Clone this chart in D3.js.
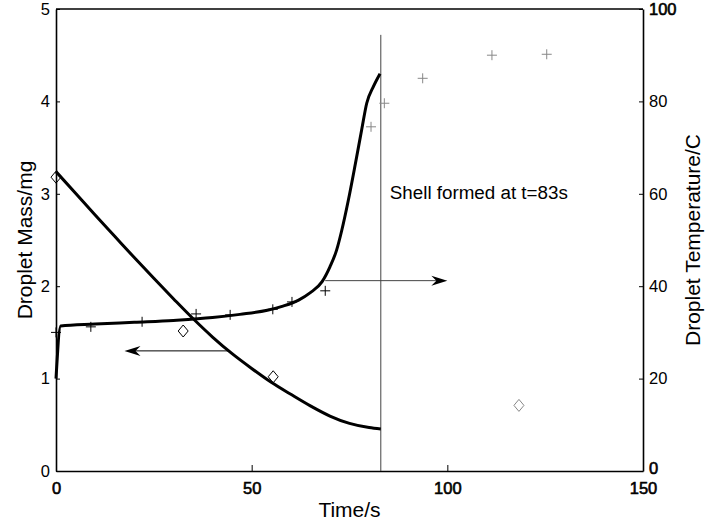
<!DOCTYPE html>
<html>
<head>
<meta charset="utf-8">
<script src="https://cdn.jsdelivr.net/npm/d3@7"></script>
<style>
  body { margin: 0; background: #fff; }
  svg { font-family: "Liberation Sans", Arial, sans-serif; }
  .axis text { font-size: 16.5px; fill: #000; }
  .axis path, .axis line { stroke: #000; }
</style>
</head>
<body>
<svg id="chart" width="705" height="527"></svg>
<script>
// mass curve (mg) vs time (s)
const massTime = [0, 5, 10, 15, 20, 25, 30, 35, 40, 45, 50, 55, 60, 65, 70, 75, 80, 83];
const massModel = [3.24, 3.005, 2.77, 2.54, 2.31, 2.085, 1.865, 1.65, 1.45, 1.27, 1.11, 0.96, 0.83, 0.705, 0.595, 0.515, 0.47, 0.455];

// temperature curve (C) vs time (s)
const tempTime = [0, 1.2, 10, 20, 30, 40, 47, 54, 58, 62, 65, 68, 70, 71.7, 73, 74.7, 76.5, 78.1, 79.4, 81.1, 82.8];
const tempModel = [20, 31.4, 31.8, 32.2, 32.6, 33.2, 33.9, 34.8, 35.7, 37.0, 38.6, 41.0, 44.2, 47.8, 52, 58.6, 66.5, 73.8, 79.6, 83.2, 86];

// measured mass (diamonds)
const massObsTime = [0, 32.5, 55.5];
const massObs = [3.18, 1.515, 1.02];
const massObsLateTime = [118.3];
const massObsLate = [0.71];

// measured temperature (plus signs)
const tempObsTime = [0, 8.9, 22, 35.8, 44.5, 55.4, 60.3, 68.8];
const tempObs = [30, 31.2, 32.3, 34, 33.8, 35, 36.6, 39];
const tempObsLateTime = [80.5, 83.9, 93.7, 111.4, 125.4];
const tempObsLate = [74.5, 79.6, 85, 90, 90.2];

const xTicks = [0, 50, 100, 150];
const massTicks = [0, 1, 2, 3, 4, 5];
const tempTicks = [0, 20, 40, 60, 80, 100];
const shellTime = 83;

const svg = d3.select('#chart');
const pLeft = 56, pRight = 643, pTop = 9, pBottom = 471;

const x = d3.scaleLinear().domain([0, 150]).range([pLeft, pRight]);
const yMass = d3.scaleLinear().domain([0, 5]).range([pBottom, pTop]);
const yTemp = d3.scaleLinear().domain([0, 100]).range([pBottom, pTop]);

// axes
const gx = svg.append('g').attr('class', 'axis')
    .attr('transform', `translate(0,${pBottom})`)
    .call(d3.axisBottom(x).tickValues(xTicks).tickFormat(d3.format('d'))
        .tickSizeInner(-6).tickSizeOuter(0).tickPadding(11));
gx.selectAll('text').attr('stroke', '#000').attr('stroke-width', 0.6);

svg.append('g').attr('class', 'axis')
    .attr('transform', `translate(${pLeft},0)`)
    .call(d3.axisLeft(yMass).tickValues(massTicks).tickFormat(d3.format('d'))
        .tickSizeInner(-4).tickSizeOuter(0).tickPadding(6));

const gr = svg.append('g').attr('class', 'axis')
    .attr('transform', `translate(${pRight},0)`)
    .call(d3.axisRight(yTemp).tickValues(tempTicks).tickFormat(d3.format('d'))
        .tickSizeInner(-4).tickSizeOuter(0).tickPadding(6));
gr.selectAll('text').filter(d => d === 0 || d === 100)
    .attr('stroke', '#000').attr('stroke-width', 0.6);
gr.selectAll('text').filter(d => d === 0).attr('dy', '0.15em');

svg.selectAll('.axis path').attr('stroke-width', 1.6);
svg.selectAll('.axis line').attr('stroke-width', 1);

// top border
svg.append('line')
    .attr('x1', pLeft).attr('x2', pRight).attr('y1', pTop).attr('y2', pTop)
    .attr('stroke', '#000').attr('stroke-width', 1.6);

// shell line
svg.append('line')
    .attr('x1', x(shellTime)).attr('x2', x(shellTime))
    .attr('y1', yMass(4.72)).attr('y2', pBottom)
    .attr('stroke', '#444').attr('stroke-width', 1);

svg.append('text')
    .attr('x', x(shellTime) + 9).attr('y', yMass(2.94))
    .attr('font-size', 18.8)
    .text('Shell formed at t=83s');

// model curves
const massLine = d3.line()
    .x((d, i) => x(massTime[i]))
    .y(d => yMass(d))
    .curve(d3.curveMonotoneX);
svg.append('path')
    .attr('d', massLine(massModel))
    .attr('fill', 'none').attr('stroke', '#000').attr('stroke-width', 3);

const tempLine = d3.line()
    .x((d, i) => x(tempTime[i]))
    .y(d => yTemp(d))
    .curve(d3.curveMonotoneX);
svg.append('path')
    .attr('d', tempLine(tempModel))
    .attr('fill', 'none').attr('stroke', '#000').attr('stroke-width', 3);

// markers
function plus(ts, vs, color) {
    const g = svg.append('g').attr('stroke', color).attr('stroke-width', 1);
    vs.forEach((v, i) => {
        const cx = x(ts[i]), cy = yTemp(v);
        g.append('path').attr('d', `M${cx - 5},${cy}H${cx + 5}M${cx},${cy - 5}V${cy + 5}`);
    });
}
function diamond(ts, vs, color) {
    const g = svg.append('g').attr('stroke', color).attr('stroke-width', 1).attr('fill', 'none');
    vs.forEach((v, i) => {
        const cx = x(ts[i]), cy = yMass(v);
        g.append('path').attr('d', `M${cx},${cy - 6}L${cx + 5},${cy}L${cx},${cy + 6}L${cx - 5},${cy}Z`);
    });
}
plus(tempObsTime, tempObs, '#000');
plus(tempObsLateTime, tempObsLate, '#888');
diamond(massObsTime, massObs, '#000');
diamond(massObsLateTime, massObsLate, '#888');

// arrows pointing to each curve's axis
function arrow(t0, t1, yv, color) {
    const x0 = x(t0), x1 = x(t1), dir = Math.sign(x1 - x0);
    svg.append('line')
        .attr('x1', x0).attr('x2', x1 - dir * 8).attr('y1', yv).attr('y2', yv)
        .attr('stroke', color).attr('stroke-width', 1);
    svg.append('path')
        .attr('d', `M${x1},${yv}L${x1 - dir * 16},${yv - 5}L${x1 - dir * 11},${yv}L${x1 - dir * 16},${yv + 5}Z`)
        .attr('fill', '#000');
}
arrow(44.5, 17.5, yMass(1.3), '#000');
arrow(68.8, 100, yTemp(41.2), '#444');

// axis titles
svg.append('text')
    .attr('transform', `translate(32,${(pTop + pBottom) / 2}) rotate(-90)`)
    .attr('text-anchor', 'middle').attr('font-size', 21)
    .text('Droplet Mass/mg');
svg.append('text')
    .attr('transform', `translate(700,${(pTop + pBottom) / 2}) rotate(-90)`)
    .attr('text-anchor', 'middle').attr('font-size', 21)
    .text('Droplet Temperature/C');
svg.append('text')
    .attr('x', (pLeft + pRight) / 2).attr('y', 517)
    .attr('text-anchor', 'middle').attr('font-size', 21)
    .text('Time/s');
</script>
</body>
</html>
